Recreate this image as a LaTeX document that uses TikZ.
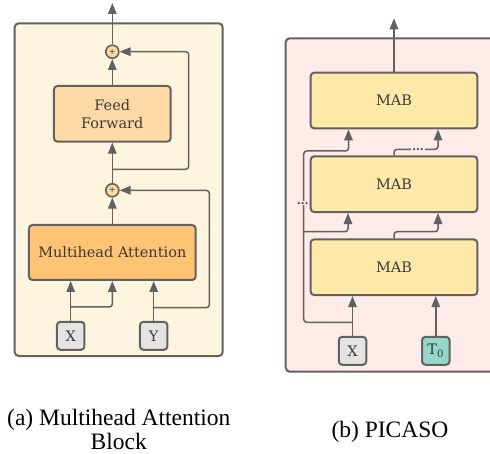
\documentclass[tikz,border=0pt]{standalone}
\usepackage{fontspec}
\setmainfont{Liberation Serif}
\newfontfamily\boxfont{DejaVu Serif}
\usetikzlibrary{arrows.meta,calc}
\definecolor{lc}{HTML}{616161}
\definecolor{txt}{HTML}{3A3A3A}
\definecolor{creambg}{HTML}{FFF5DF}
\definecolor{pinkbg}{HTML}{FFEBE9}
\definecolor{fffill}{HTML}{FFDAA6}
\definecolor{mhafill}{HTML}{FFC374}
\definecolor{plusfill}{HTML}{FFD9A0}
\definecolor{inpfill}{HTML}{E3E3E3}
\definecolor{mabfill}{HTML}{FFE9A8}
\definecolor{tfill}{HTML}{96D6C8}
\tikzset{
  panel/.style={draw=lc, line width=2pt, rounded corners=4pt},
  blk/.style={draw=lc, line width=2pt, rounded corners=3.5pt, text=txt,
    font=\boxfont\fontsize{14.5}{18}\selectfont, align=center, inner sep=0pt},
  inp/.style={blk, minimum width=27.5pt, minimum height=28pt, fill=inpfill},
  plusnode/.style={circle, draw=lc, line width=1.6pt, fill=plusfill, minimum size=13pt,
    inner sep=0pt, text=txt, font=\boxfont\fontsize{8}{8}\selectfont},
  arr/.style={draw=lc, line width=1.5pt, rounded corners=3pt, -{Triangle[length=11pt,width=8.5pt]}},
  dotsnode/.style={fill=pinkbg, inner sep=1pt, text=txt, font=\boxfont\bfseries\fontsize{11}{11}\selectfont},
  captext/.style={font=\rmfamily\fontsize{23.5}{24.7}\selectfont, anchor=base, inner sep=0pt}
}
\begin{document}
\begin{tikzpicture}[x=1pt,y=-1pt]
\useasboundingbox (0,0) rectangle (490,454);
\clip (0,0) rectangle (490,454);

% ---------- (a) Multihead Attention Block ----------
\draw[panel, fill=creambg] (14.7,23.3) rectangle (222.7,356);
\node[plusnode] (p1) at (112.3,51.7) {+};
\node[plusnode] (p2) at (112.3,190.3) {+};
\node[blk, fill=fffill, minimum width=116.7pt, minimum height=55.7pt] (ff) at (112.3,113.8) {Feed\\Forward};
\node[blk, fill=mhafill, minimum width=166.7pt, minimum height=55pt] (mha) at (112.3,252.5) {Multihead Attention};
\node[inp] (xa) at (70.7,335.8) {X};
\node[inp] (ya) at (153.7,335.8) {Y};

\coordinate (outL) at (112.3,3);
\coordinate (s1) at (112.3,169.3);
\coordinate (xb) at (70.7,307);
\coordinate (yb) at (153.7,307.7);

\draw[arr] (p1.north) -- (outL);
\draw[arr] (ff.north) -- (p1.south);
\draw[arr] (p2.north) -- (ff.south);
\draw[arr] (s1) -- (188.7,169.3) |- (p1.east);
\draw[arr] (mha.north) -- (p2.south);
\draw[arr] (xa.north) -- (xa.north |- mha.south);
\draw[arr] (xb) -| (mha.south);
\draw[arr] (ya.north) -- (ya.north |- mha.south);
\draw[arr] (yb) -- (209.3,307.7) |- (p2.east);

% ---------- (b) PICASO ----------
\draw[panel, fill=pinkbg] (285.7,38.3) rectangle (520,371.7);
\node[blk, fill=mabfill, minimum width=166.6pt, minimum height=55.7pt] (m1) at (394,100.5) {MAB};
\node[blk, fill=mabfill, minimum width=166.6pt, minimum height=55.7pt] (m2) at (394,184.2) {MAB};
\node[blk, fill=mabfill, minimum width=166.6pt, minimum height=55.7pt] (m3) at (394,267.2) {MAB};
\node[inp] (xb2n) at (352.5,350.8) {X};
\node[inp, fill=tfill] (t0) at (435.8,350.8) {T\textsubscript{0}};

\coordinate (outR) at (394,18.3);
\coordinate (xbr) at (352.5,322.3);
\coordinate (lb) at (303.7,231.7);

\draw[arr] (m1.north) -- (outR);
\draw[arr] (xb2n.north) -- (xb2n.north |- m3.south);
\draw[arr] (t0.north) -- (t0.north |- m3.south);
\draw[arr] (xbr) -- (303.7,322.3) -- (303.7,151) -| ([xshift=-45.5pt]m1.south);
\draw[arr] (lb) -| ([xshift=-46pt]m2.south);
\draw[arr] (m3.north) -- ++(0,-6.6) -| ([xshift=44pt]m2.south);
\draw[arr] (m2.north) -- ++(0,-6) -| ([xshift=44pt]m1.south);
\node[dotsnode] (d1) at (418,150) {...};
\node[dotsnode] (d2) at (302.7,203.3) {...};

% ---------- captions ----------
\node[captext] (capa1) at (118.8,425.5) {(a) Multihead Attention};
\node[captext] (capa2) at (118.8,449.8) {Block};
\node[captext] (capb) at (390,437.3) {(b) PICASO};
\end{tikzpicture}
\end{document}
